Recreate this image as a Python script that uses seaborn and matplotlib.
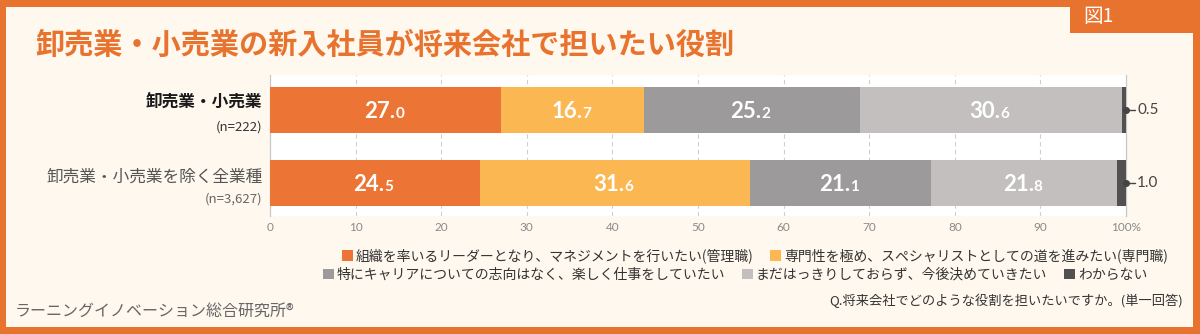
import numpy as np
import pandas as pd
import matplotlib
matplotlib.use("Agg")
import matplotlib.pyplot as plt
from matplotlib.patches import Rectangle, Patch
import seaborn as sns

# data
categories = ["卸売業・小売業", "卸売業・小売業を除く全業種"]
n_labels = ["(n=222)", "(n=3,627)"]
series = [
    "組織を率いるリーダーとなり、マネジメントを行いたい(管理職)",
    "専門性を極め、スペシャリストとしての道を進みたい(専門職)",
    "特にキャリアについての志向はなく、楽しく仕事をしていたい",
    "まだはっきりしておらず、今後決めていきたい",
    "わからない",
]
leader = [27.0, 24.5]
specialist = [16.7, 31.6]
no_pref = [25.2, 21.1]
undecided = [30.6, 21.8]
dont_know = [0.5, 1.0]
ticks = [0, 10, 20, 30, 40, 50, 60, 70, 80, 90, 100]

colors = ["#EC7434", "#FBB752", "#9C9A9A", "#C3BFBF", "#525050"]
orange = "#E8732F"
cream = "#FEF8EE"

sns.set_theme(style="white")
plt.rcParams["font.family"] = ["Noto Sans CJK JP", "DejaVu Sans"]

vals = np.array([leader, specialist, no_pref, undecided, dont_know])
cum = np.cumsum(vals, axis=0)

fig = plt.figure(figsize=(12, 3.34), dpi=100, facecolor=orange)
W, H = 1200, 334
fig.patches.append(Rectangle((6 / W, 7 / H), (1193 - 6) / W, (327 - 7) / H,
                             transform=fig.transFigure, facecolor=cream,
                             edgecolor="none", zorder=-1))
fig.patches.append(Rectangle((1070 / W, 1 - 33 / H), 130 / W, 33 / H,
                             transform=fig.transFigure, facecolor=orange,
                             edgecolor="none", zorder=-1))

ax = fig.add_axes([270 / W, 1 - 216 / H, (1126 - 270) / W, (216 - 75) / H])
ax.set_facecolor("white")

# stacked bars drawn as overlaid cumulative bars
for i in reversed(range(len(series))):
    df = pd.DataFrame({"cat": categories, "val": cum[i]})
    sns.barplot(data=df, x="val", y="cat", orient="h", color=colors[i],
                width=0.63, linewidth=0, saturation=1, ax=ax, zorder=3)

ax.set_xlim(0, 100)
ax.set_ylim(1.452, -0.479)
ax.set_xticks(ticks)
ax.set_xticklabels([str(t) for t in ticks[:-1]] + ["100%"], fontsize=8.5,
                   color="#8a8a8a", family=["Lato", "DejaVu Sans"])
ax.tick_params(axis="x", length=0, pad=4)
ax.set_yticks([])
ax.set_xlabel("")
ax.set_ylabel("")
for t in ticks[1:-1]:
    ax.axvline(t, color="#cfcfcf", lw=0.8, ls=(0, (4, 3)), zorder=1)
for s in ["top", "bottom"]:
    ax.spines[s].set_visible(False)
for s in ["left", "right"]:
    ax.spines[s].set_color("#c8c8c8")
    ax.spines[s].set_linewidth(0.9)

# in-bar labels
for r in range(len(categories)):
    for i in range(4):
        v = vals[i][r]
        c = cum[i][r] - v / 2
        big, small = f"{v:.1f}".split(".")
        ax.annotate(big + ".", (c, r), xytext=(7, -6), textcoords="offset points",
                    ha="right", va="baseline", color="white", fontsize=16,
                    fontweight="bold", family=["Lato", "DejaVu Sans"], zorder=5)
        ax.annotate(small, (c, r), xytext=(7, -6), textcoords="offset points",
                    ha="left", va="baseline", color="white", fontsize=11,
                    fontweight="bold", family=["Lato", "DejaVu Sans"], zorder=5)
    # outside label for the last small segment
    ax.plot([100, 101.0], [r, r], color="#444444", lw=1, clip_on=False, zorder=6)
    ax.plot([100], [r], marker="o", ms=4, color="#444444", clip_on=False, zorder=6)
    ax.text(101.3, r, f"{vals[4][r]:.1f}", va="center", ha="left", fontsize=11,
            color="#444444", family=["Lato", "DejaVu Sans"])

# row labels
ax.text(-0.9, -0.11, categories[0], ha="right", va="center", fontsize=12,
        fontweight="bold", color="#1a1a1a")
ax.text(-0.9, 0.23, n_labels[0], ha="right", va="center", fontsize=9.5,
        color="#333333")
ax.text(-0.9, 0.92, categories[1], ha="right", va="center", fontsize=12,
        color="#555555")
ax.text(-0.9, 1.22, n_labels[1], ha="right", va="center", fontsize=9.5,
        color="#666666")

# title and tags
fig.text(35 / W, 1 - 45 / H, "卸売業・小売業の新入社員が将来会社で担いたい役割",
         fontsize=21, fontweight="bold", color=orange, va="center", ha="left")
fig.text(1098 / W, 1 - 17 / H, "図1", fontsize=14, color="white",
         va="center", ha="center")

# legends
h1 = [Patch(facecolor=colors[i], edgecolor="none", label=series[i]) for i in range(2)]
h2 = [Patch(facecolor=colors[i], edgecolor="none", label=series[i]) for i in range(2, 5)]
leg_kw = dict(frameon=False, fontsize=10, handlelength=0.8, handleheight=0.8,
              handletextpad=0.2, columnspacing=1.2, labelcolor="#333333",
              borderaxespad=0, borderpad=0)
fig.legend(handles=h1, ncol=2, loc="center", bbox_to_anchor=(755 / W, 1 - 256 / H), **leg_kw)
fig.legend(handles=h2, ncol=3, loc="center", bbox_to_anchor=(735 / W, 1 - 275 / H), **leg_kw)

# footers
fig.text(15 / W, 1 - 311 / H, "ラーニングイノベーション総合研究所®", fontsize=11.5,
         color="#666666", va="center", ha="left")
fig.text(1183 / W, 1 - 301 / H, "Q.将来会社でどのような役割を担いたいですか。(単一回答)",
         fontsize=9.5, color="#333333", va="center", ha="right")

fig.savefig("out.png", dpi=100, facecolor=orange)
